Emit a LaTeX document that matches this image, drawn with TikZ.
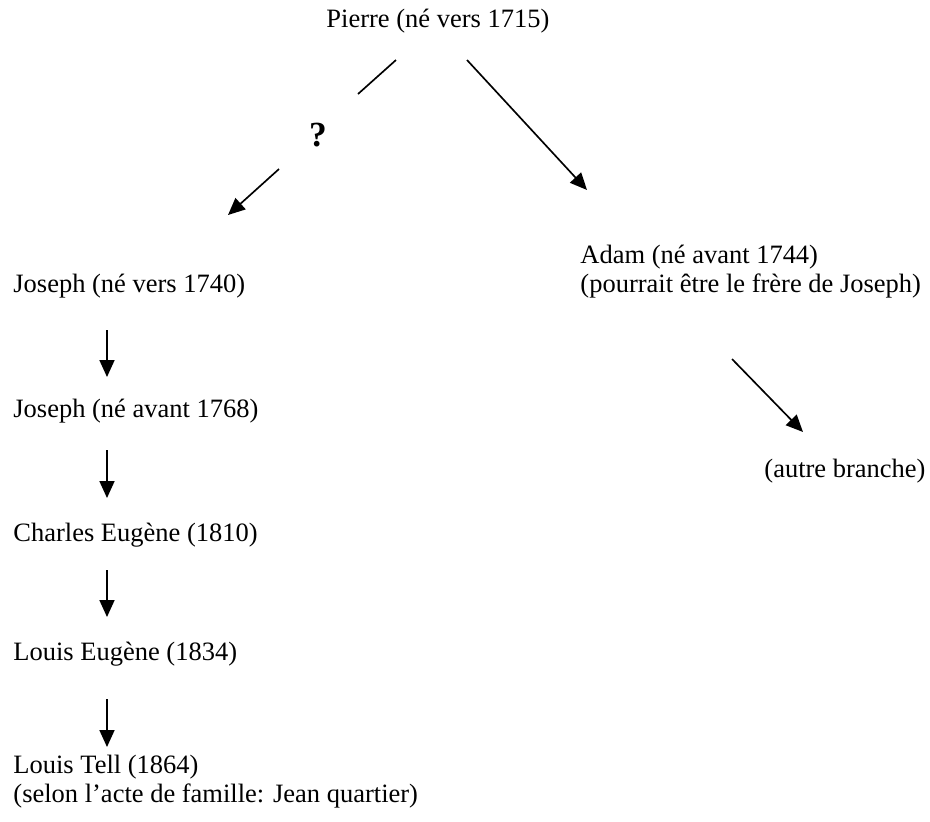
\documentclass[tikz,border=0pt]{standalone}
\usepackage{fontspec}
\setmainfont{Liberation Serif}
\usetikzlibrary{arrows.meta, positioning}

\begin{document}
\begin{tikzpicture}[x=0.453pt, y=-0.453pt,
  every node/.style={inner sep=0pt, font=\fontsize{12}{13.1}\selectfont},
  person/.style={anchor=base west, align=left},
  descent/.style={-{Triangle[length=7.7pt, width=6.8pt]}, line width=0.75pt}]
\useasboundingbox (0,0) rectangle (930,821);
\node[person] (pierre) at (326,27) {Pierre (né vers 1715)};
\node[person] (joseph1) at (13,292) {Joseph (né vers 1740)};
\node[person] (joseph2) at (13,417) {Joseph (né avant 1768)};
\node[person] (charles) at (13,541) {Charles Eugène (1810)};
\node[person] (louisE) at (13,660) {Louis Eugène (1834)};
\node[person] (louisT) at (13,802) {Louis Tell (1864)\\(selon l’acte de famille: Jean quartier)};
\node[person] (adam) at (580,292) {Adam (né avant 1744)\\(pourrait être le frère de Joseph)};
\node[person] (autre) at (764,477) {(autre branche)};
\node[font=\fontsize{16}{19}\selectfont\bfseries] (doubt) at (318,135) {?};
\coordinate (qa) at (396,60);
\coordinate (qb) at (358,94);
\coordinate (qc) at (279,169);
\coordinate (qd) at (228,215);
\draw[line width=0.75pt] (qa) -- (qb);
\draw[descent] (qc) -- (qd);
\coordinate (pa) at (467,60);
\coordinate (pb) at (587,190);
\draw[descent] (pa) -- (pb);
\coordinate (aa) at (732,359);
\coordinate (ab) at (803,432);
\draw[descent] (aa) -- (ab);
\foreach \top/\tip [count=\i] in {330/377, 450/498, 570/617, 699/747} {
  \coordinate (v\i) at (107,\top);
  \coordinate (w\i) at (107,\tip);
  \draw[descent] (v\i) -- (w\i);
}
\end{tikzpicture}
\end{document}
